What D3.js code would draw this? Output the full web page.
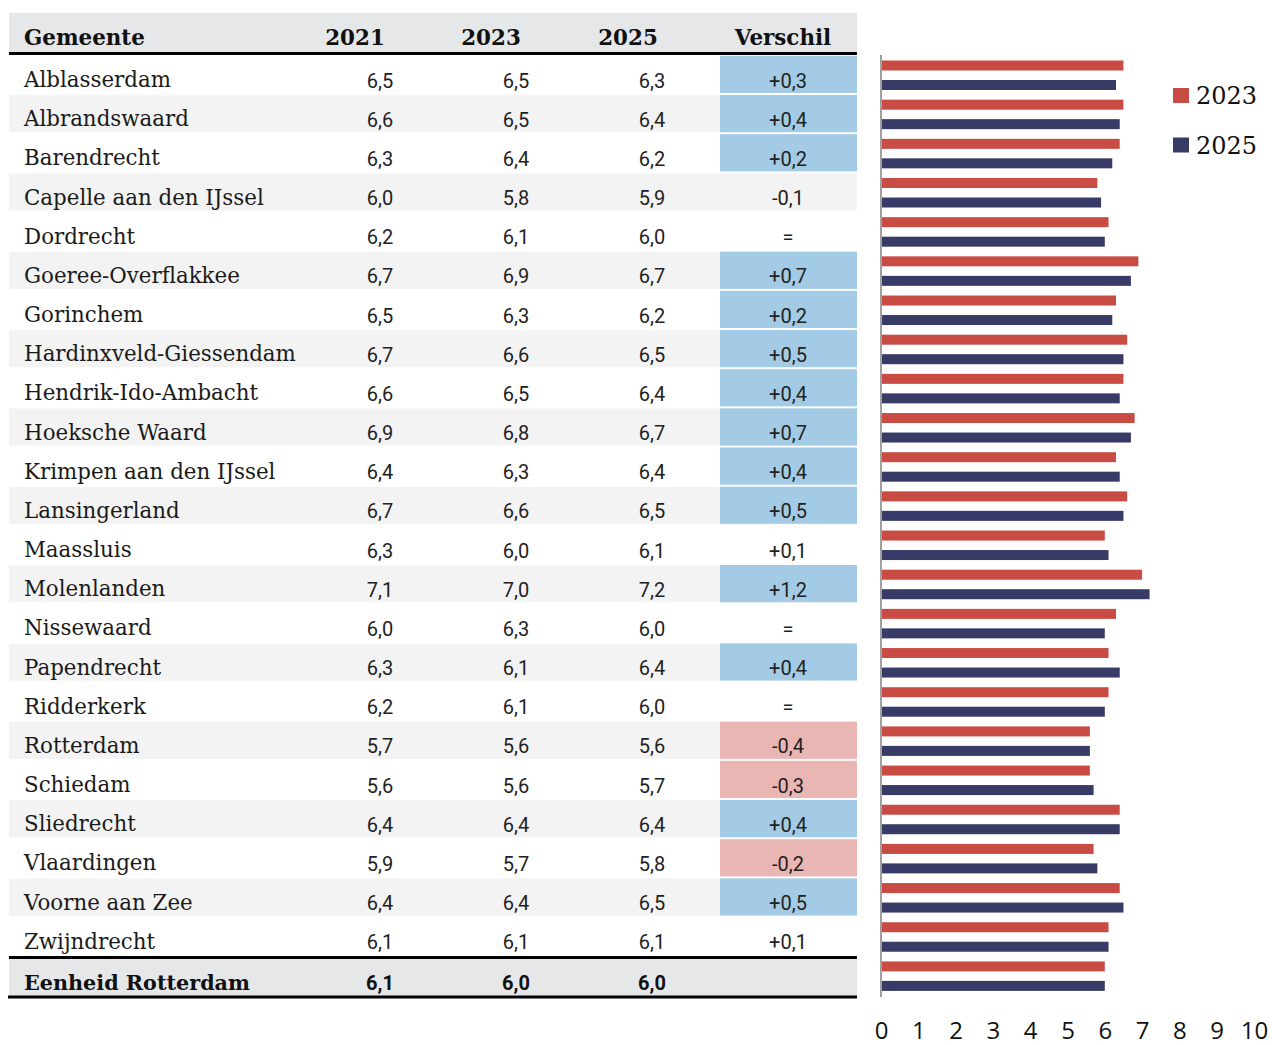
<!DOCTYPE html>
<html><head><meta charset="utf-8">
<script src="https://cdn.jsdelivr.net/npm/d3@7"></script>
<style>
html,body{margin:0;padding:0;background:#fff;}
svg{display:block;}
</style></head>
<body>
<svg id="c" width="1272" height="1045"></svg>
<script>
const gemeenten = ["Alblasserdam","Albrandswaard","Barendrecht","Capelle aan den IJssel","Dordrecht","Goeree-Overflakkee","Gorinchem","Hardinxveld-Giessendam","Hendrik-Ido-Ambacht","Hoeksche Waard","Krimpen aan den IJssel","Lansingerland","Maassluis","Molenlanden","Nissewaard","Papendrecht","Ridderkerk","Rotterdam","Schiedam","Sliedrecht","Vlaardingen","Voorne aan Zee","Zwijndrecht"];
const v2021 = [6.5,6.6,6.3,6.0,6.2,6.7,6.5,6.7,6.6,6.9,6.4,6.7,6.3,7.1,6.0,6.3,6.2,5.7,5.6,6.4,5.9,6.4,6.1];
const v2023 = [6.5,6.5,6.4,5.8,6.1,6.9,6.3,6.6,6.5,6.8,6.3,6.6,6.0,7.0,6.3,6.1,6.1,5.6,5.6,6.4,5.7,6.4,6.1];
const v2025 = [6.3,6.4,6.2,5.9,6.0,6.7,6.2,6.5,6.4,6.7,6.4,6.5,6.1,7.2,6.0,6.4,6.0,5.6,5.7,6.4,5.8,6.5,6.1];
const verschil = [0.3,0.4,0.2,-0.1,0,0.7,0.2,0.5,0.4,0.7,0.4,0.5,0.1,1.2,0,0.4,0,-0.4,-0.3,0.4,-0.2,0.5,0.1];
const totaalLabel = "Eenheid Rotterdam";
const totaal = {y2021:6.1, y2023:6.0, y2025:6.0};
const headers = ["Gemeente","2021","2023","2025","Verschil"];
const legendSeries = ["2023","2025"];
const xTicks = [0,1,2,3,4,5,6,7,8,9,10];

const svg = d3.select("#c");
const fmt = v => d3.format(".1f")(v).replace(".", ",");
const fmtDiff = v => v === 0 ? "=" : (v > 0 ? "+" : "-") + fmt(Math.abs(v));

const serif = "'DejaVu Serif', serif";
const numFont = "Roboto, 'Noto Sans', sans-serif";
const rowTop = 55, rowH = 39.17;
const tableL = 9, tableR = 857;
const colX = [24, 380, 516, 652, 788];
const headX = [24, 355, 491, 628, 783];

const allCats = gemeenten.concat([totaalLabel]);
const yRow = d3.scaleBand().domain(allCats).range([rowTop, rowTop + rowH * allCats.length]).padding(0);

// header
svg.append("rect").attr("x", tableL).attr("y", 13).attr("width", tableR - tableL).attr("height", 40).attr("fill", "#e6e7e9");
const hdr = svg.append("g").selectAll("text").data(headers).join("text")
  .attr("x", (d,i) => headX[i]).attr("y", 45)
  .attr("text-anchor", (d,i) => i === 0 ? "start" : "middle")
  .attr("font-family", serif).attr("font-weight", "bold").attr("font-size", 21)
  .attr("fill", "#111").text(d => d);

// row backgrounds
svg.append("g").selectAll("rect").data(gemeenten.filter((d,i) => i % 2 === 1)).join("rect")
  .attr("x", tableL).attr("width", tableR - tableL)
  .attr("y", d => yRow(d) + 1).attr("height", 37).attr("fill", "#f3f3f3");

// verschil cells
const colorFor = v => v >= 0.2 ? "#a3cbe5" : (v <= -0.2 ? "#e9b6b4" : null);
svg.append("g").selectAll("rect").data(gemeenten.map((g,i) => ({g, v: verschil[i]})).filter(d => colorFor(d.v))).join("rect")
  .attr("x", 720).attr("width", tableR - 720)
  .attr("y", d => yRow(d.g) + 0.8).attr("height", 37.2).attr("fill", d => colorFor(d.v));

// total row background
svg.append("rect").attr("x", tableL).attr("width", tableR - tableL)
  .attr("y", yRow(totaalLabel) + 2).attr("height", 38).attr("fill", "#e6e7e9");

// lines
const lines = [
  {y: 53.5, x1: tableL, w: 3},
  {y: yRow(totaalLabel) + 1.5, x1: tableL, w: 3},
  {y: yRow(totaalLabel) + rowH + 2, x1: 8, w: 3}
];
svg.append("g").selectAll("line").data(lines).join("line")
  .attr("x1", d => d.x1).attr("x2", tableR).attr("y1", d => d.y).attr("y2", d => d.y)
  .attr("stroke", "#000").attr("stroke-width", d => d.w);

// names
const names = svg.append("g").selectAll("text").data(gemeenten).join("text")
  .attr("x", colX[0]).attr("y", d => yRow(d) + 32)
  .attr("font-family", serif).attr("font-size", 20).attr("fill", "#1a1a1a").text(d => d);

function fit(sel, node, target, base) {
  const w = node.getComputedTextLength();
  const fs = base * target / w;
  sel.attr("font-size", fs);
  return fs;
}
const nameFs = fit(names, names.filter(d => d === "Hardinxveld-Giessendam").node(), 272, 20);
fit(hdr, hdr.filter(d => d === "Gemeente").node(), 121, 21);

// numbers
const series = [v2021, v2023, v2025];
series.forEach((arr, si) => {
  svg.append("g").selectAll("text").data(gemeenten.map((g,i) => ({g, v: arr[i]}))).join("text")
    .attr("x", colX[si+1]).attr("y", d => yRow(d.g) + 32.5).attr("text-anchor", "middle")
    .attr("font-family", numFont).attr("font-size", 20).attr("fill", "#222").text(d => fmt(d.v));
});
svg.append("g").selectAll("text").data(gemeenten.map((g,i) => ({g, v: verschil[i]}))).join("text")
  .attr("x", colX[4]).attr("y", d => yRow(d.g) + 32.5).attr("text-anchor", "middle")
  .attr("font-family", numFont).attr("font-size", 20).attr("fill", "#222").text(d => fmtDiff(d.v));

// total row text
const ty = yRow(totaalLabel) + 34;
svg.append("text").attr("x", colX[0]).attr("y", ty).attr("font-family", serif).attr("font-weight", "bold")
  .attr("font-size", nameFs * 0.97).attr("fill", "#111").text(totaalLabel);
[totaal.y2021, totaal.y2023, totaal.y2025].forEach((v, i) => {
  svg.append("text").attr("x", colX[i+1]).attr("y", ty).attr("text-anchor", "middle")
    .attr("font-family", numFont).attr("font-weight", "bold").attr("font-size", 20).attr("fill", "#111").text(fmt(v));
});

// bars
const x = d3.scaleLinear().domain([0, 10]).range([881, 1254]);
const ySub = d3.scaleBand().domain(legendSeries).range([5.5, 35]).paddingInner(0.487).paddingOuter(0);
const barColors = {"2023": "#c94c44", "2025": "#383b66"};
const barData = [];
gemeenten.forEach((g, i) => {
  barData.push({g, s: "2023", v: v2023[i]});
  barData.push({g, s: "2025", v: v2025[i]});
});
barData.push({g: totaalLabel, s: "2023", v: totaal.y2023});
barData.push({g: totaalLabel, s: "2025", v: totaal.y2025});
svg.append("g").selectAll("rect").data(barData).join("rect")
  .attr("x", x(0)).attr("width", d => x(d.v) - x(0))
  .attr("y", d => yRow(d.g) + ySub(d.s)).attr("height", ySub.bandwidth())
  .attr("fill", d => barColors[d.s]);

// vertical axis line
svg.append("line").attr("x1", x(0)).attr("x2", x(0)).attr("y1", 55).attr("y2", 997)
  .attr("stroke", "#a0a0a0").attr("stroke-width", 2);

// x axis labels
const ax = svg.append("g").attr("transform", "translate(0,1039)")
  .call(d3.axisBottom(x).tickValues(xTicks).tickSize(0).tickFormat(d3.format("d")));
ax.select(".domain").remove();
ax.selectAll("text").attr("y", 0).attr("dy", null)
  .attr("font-family", "'Open Sans', 'Noto Sans', sans-serif").attr("font-size", 24).attr("fill", "#111");

// legend
const lg = svg.append("g").selectAll("g").data(legendSeries).join("g")
  .attr("transform", (d,i) => `translate(1173,${88 + i*49.5})`);
lg.append("rect").attr("width", 16).attr("height", 15).attr("fill", d => barColors[d]);
lg.append("text").attr("x", 23).attr("y", 16).attr("font-family", serif)
  .attr("font-size", 24).attr("fill", "#111").text(d => d);
</script>
</body></html>
